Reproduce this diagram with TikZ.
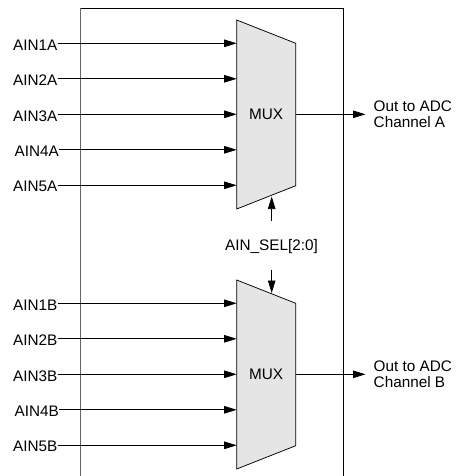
\documentclass[tikz,border=0pt]{standalone}
\usepackage{fontspec}
\setmainfont{Liberation Sans}
\usetikzlibrary{arrows.meta}

\begin{document}
\begin{tikzpicture}[x=1pt, y=-1pt,
    every node/.style={font=\fontsize{15.3}{16.5}\selectfont, text=black},
    pin/.style={inner sep=0pt, anchor=east},
    sig/.style={draw=black, line width=0.75pt, -{Triangle[length=12.5pt, width=7.5pt]}},
    muxbody/.style={draw=black, line width=0.75pt, fill=black!10}]
    \useasboundingbox (0,0) rectangle (455,476);

    % frame
    \draw[gray!80!black, line width=1.1pt] (80.7,476) -- (80.7,8);
    \draw[black, line width=0.8pt] (80.7,8) -- (343,8) -- (343,476);

    % multiplexers
    \draw[muxbody] (236.7,20) -- (295.7,43.3) -- (295.7,185.7) -- (236.7,209) -- cycle;
    \draw[muxbody] (236.7,280) -- (295.7,303.3) -- (295.7,445.7) -- (236.7,469) -- cycle;
    \node (muxa) at (266.2,114.3) {MUX};
    \node (muxb) at (266.2,374.3) {MUX};

    % inputs
    \foreach \i/\y/\dx in {1/43.3/0, 2/78.8/0, 3/114.3/0, 4/149.8/1.5, 5/185.3/0} {
      \node[pin] (in\i a) at (57.5+\dx,\y+1.5) {AIN\i A};
      \coordinate (mxa\i) at (236.7,\y);
      \draw[sig] (in\i a.east |- mxa\i) -- (mxa\i);
      \node[pin] (in\i b) at (57.5+\dx,\y+261.5) {AIN\i B};
      \coordinate (mxb\i) at (236.7,\y+260);
      \draw[sig] (in\i b.east |- mxb\i) -- (mxb\i);
    }

    % outputs
    \coordinate (outa) at (295.7,114.3);
    \coordinate (outb) at (295.7,374.3);
    \node[anchor=west, align=left, inner sep=0pt] (adca) at (373.5,114.3) {Out to ADC\\Channel A};
    \node[anchor=west, align=left, inner sep=0pt] (adcb) at (373.5,374.3) {Out to ADC\\Channel B};
    \draw[sig, shorten >=8pt] (outa) -- (adca.west);
    \draw[sig, shorten >=8pt] (outb) -- (adcb.west);

    % select
    \node (sel) at (271.5,246.5) {AIN\_SEL[2:0]};
    \coordinate (sela) at (271.7,196.5);
    \coordinate (selb) at (271.7,293);
    \draw[sig] (271.7,221) -- (sela);
    \draw[sig] (271.7,270) -- (selb);
\end{tikzpicture}
\end{document}
